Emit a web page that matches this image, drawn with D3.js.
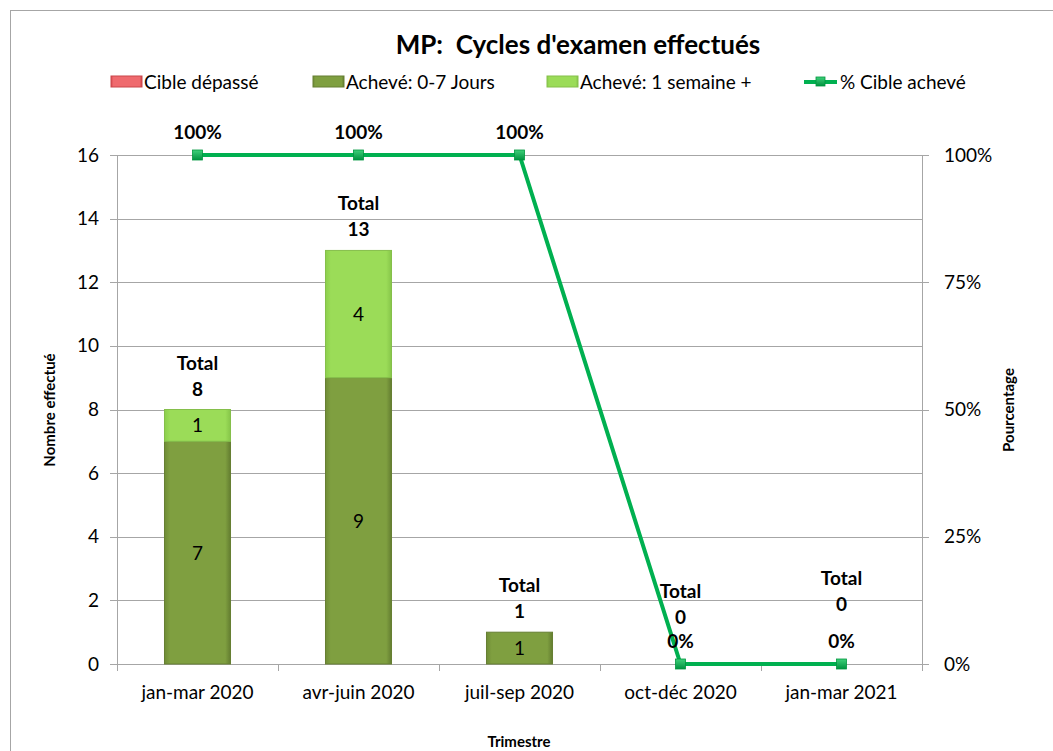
<!DOCTYPE html>
<meta charset="utf-8">
<style>
 body { margin: 0; background: #fff; font-family: Lato, 'Open Sans', sans-serif; }
 .grid line { stroke: #a6a6a6; shape-rendering: crispEdges; }
 .axis path, .axis line { stroke: #a6a6a6; shape-rendering: crispEdges; }
 .axis text { font-size: 19px; fill: #000; font-family: Lato, sans-serif; }
</style>
<body>
<script src="https://cdn.jsdelivr.net/npm/d3@7"></script>
<script>

 // data
 var quarters = ["jan-mar 2020", "avr-juin 2020", "juil-sep 2020", "oct-déc 2020", "jan-mar 2021"];
 var overdue = [0, 0, 0, 0, 0];            // Cible dépassé
 var done07 = [7, 9, 1, 0, 0];             // Achevé: 0-7 Jours
 var doneWeek = [1, 4, 0, 0, 0];           // Achevé: 1 semaine +
 var pctTarget = [1, 1, 1, 0, 0];          // % Cible achevé
 var leftTicks = [0, 2, 4, 6, 8, 10, 12, 14, 16];
 var rightTicks = [0, 0.25, 0.5, 0.75, 1];

 var W = 1053, H = 751;
 var plot = {left: 117, right: 922, top: 155, bottom: 664};

 var svg = d3.select("body").append("svg")
             .attr("width", W)
             .attr("height", H);

 var defs = svg.append("defs");
 function hgrad(id, c0, c1, c2) {
     var g = defs.append("linearGradient").attr("id", id)
                 .attr("x1", 0).attr("x2", 1).attr("y1", 0).attr("y2", 0);
     g.append("stop").attr("offset", "0%").attr("stop-color", c0);
     g.append("stop").attr("offset", "8%").attr("stop-color", c1);
     g.append("stop").attr("offset", "92%").attr("stop-color", c1);
     g.append("stop").attr("offset", "100%").attr("stop-color", c2);
 }
 hgrad("gDark", "#6f8c36", "#7f9f40", "#637d30");
 hgrad("gLight", "#8ccf4c", "#9bdc58", "#86c549");
 hgrad("gRed", "#d94a50", "#ef6a6e", "#cf4448");
 var mg = defs.append("linearGradient").attr("id", "gMark")
              .attr("x1", 0).attr("x2", 0).attr("y1", 0).attr("y2", 1);
 mg.append("stop").attr("offset", "0%").attr("stop-color", "#3fd07a");
 mg.append("stop").attr("offset", "100%").attr("stop-color", "#00923f");

 // outer frame
 svg.append("rect")
    .attr("x", 10.5).attr("y", 10.5)
    .attr("width", W).attr("height", H)
    .attr("fill", "none").attr("stroke", "#a6a6a6");

 var x = d3.scaleBand()
           .domain(quarters)
           .range([plot.left, plot.right])
           .paddingInner(0.59)
           .paddingOuter(0.295);

 var y = d3.scaleLinear().domain([0, 16]).range([plot.bottom, plot.top]);
 var y2 = d3.scaleLinear().domain([0, 1]).range([plot.bottom, plot.top]);

 // gridlines
 svg.append("g").attr("class", "grid")
    .selectAll("line")
    .data(leftTicks.filter(d => d > 0))
    .enter().append("line")
    .attr("x1", plot.left).attr("x2", plot.right)
    .attr("y1", d => Math.round(y(d)) + 0.5)
    .attr("y2", d => Math.round(y(d)) + 0.5);

 // left axis
 var gY = svg.append("g").attr("class", "axis")
             .attr("transform", "translate(" + plot.left + ",0)")
             .call(d3.axisLeft(y).tickValues(leftTicks).tickSize(7).tickSizeOuter(0).tickPadding(11));

 // right axis
 var gY2 = svg.append("g").attr("class", "axis")
              .attr("transform", "translate(" + plot.right + ",0)")
              .call(d3.axisRight(y2).tickValues(rightTicks).tickSize(7).tickSizeOuter(0)
                      .tickPadding(15).tickFormat(d3.format(".0%")));

 // bottom axis: ticks on category boundaries
 var step = x.step();
 var gX = svg.append("g").attr("class", "axis")
             .attr("transform", "translate(0," + plot.bottom + ")");
 gX.append("line")
   .attr("x1", plot.left).attr("x2", plot.right + 7)
   .attr("y1", 0.5).attr("y2", 0.5);
 gX.selectAll(".tk")
   .data(d3.range(quarters.length + 1))
   .enter().append("line")
   .attr("x1", i => Math.round(plot.left + i * step) + 0.5)
   .attr("x2", i => Math.round(plot.left + i * step) + 0.5)
   .attr("y1", 0).attr("y2", 7);
 gX.selectAll("text")
   .data(quarters)
   .enter().append("text")
   .attr("x", d => x(d) + x.bandwidth() / 2)
   .attr("y", 35)
   .attr("text-anchor", "middle")
   .text(d => d);

 // stacked bars
 var rows = quarters.map((q, i) => ({q: q, d07: done07[i], week: doneWeek[i], over: overdue[i]}));
 var stack = d3.stack().keys(["d07", "week", "over"])(rows);
 var fills = {d07: "url(#gDark)", week: "url(#gLight)", over: "url(#gRed)"};
 var edge = {d07: "#667f33", week: "#85bf4b", over: "#c9464a"};
 var top = {d07: "#9cba5e", week: "#b8ec80", over: "#f39a9c"};

 stack.forEach(function(layer) {
     var g = svg.append("g");
     var segs = layer.filter(s => s[1] > s[0]);
     g.selectAll("rect")
      .data(segs)
      .enter().append("rect")
      .attr("x", s => x(s.data.q))
      .attr("y", s => y(s[1]))
      .attr("width", x.bandwidth())
      .attr("height", s => y(s[0]) - y(s[1]))
      .attr("fill", fills[layer.key])
      .attr("stroke", edge[layer.key])
      .attr("stroke-width", 1);
     g.selectAll("line")
      .data(segs)
      .enter().append("line")
      .attr("x1", s => x(s.data.q) + 3)
      .attr("x2", s => x(s.data.q) + x.bandwidth() - 3)
      .attr("y1", s => y(s[1]) + 2)
      .attr("y2", s => y(s[1]) + 2)
      .attr("stroke", top[layer.key])
      .attr("stroke-width", 2);
     g.selectAll("text")
      .data(segs)
      .enter().append("text")
      .attr("x", s => x(s.data.q) + x.bandwidth() / 2)
      .attr("y", s => (y(s[0]) + y(s[1])) / 2 + 7)
      .attr("text-anchor", "middle")
      .attr("font-size", "19px")
      .text(s => s[1] - s[0]);
 });

 // total labels
 var totals = quarters.map((q, i) => done07[i] + doneWeek[i] + overdue[i]);
 var tl = svg.append("g").attr("font-weight", "bold").attr("font-size", "19px").attr("text-anchor", "middle");
 totals.forEach(function(t, i) {
     var cx = x(quarters[i]) + x.bandwidth() / 2;
     var base = y(t) - (t === 0 ? (i === 3 ? 73 : 86) : 47);
     var txt = tl.append("text").attr("x", cx).attr("y", base);
     txt.append("tspan").attr("x", cx).attr("dy", 7).text("Total");
     txt.append("tspan").attr("x", cx).attr("dy", 26).text(t);
 });

 // percent line
 var pts = quarters.map((q, i) => ({q: q, v: pctTarget[i]}));
 svg.append("path")
    .datum(pts)
    .attr("fill", "none")
    .attr("stroke", "#00b050")
    .attr("stroke-width", 4)
    .attr("stroke-linejoin", "round")
    .attr("d", d3.line()
                 .x(d => x(d.q) + x.bandwidth() / 2)
                 .y(d => y2(d.v)));

 svg.append("g").selectAll("rect")
    .data(pts)
    .enter().append("rect")
    .attr("x", d => x(d.q) + x.bandwidth() / 2 - 5)
    .attr("y", d => y2(d.v) - 5)
    .attr("width", 10).attr("height", 10)
    .attr("fill", "url(#gMark)")
    .attr("stroke", "#00973f").attr("stroke-width", 0.8);

 svg.append("g").attr("font-weight", "bold").attr("font-size", "19px").attr("text-anchor", "middle")
    .selectAll("text")
    .data(pts)
    .enter().append("text")
    .attr("x", d => x(d.q) + x.bandwidth() / 2)
    .attr("y", d => y2(d.v) - 16)
    .text(d => d3.format(".0%")(d.v));

 // title
 svg.append("text")
    .attr("x", 578).attr("y", 54)
    .attr("text-anchor", "middle")
    .attr("font-weight", "bold")
    .attr("font-size", "26px")
    .style("white-space", "pre")
    .text("MP:  Cycles d'examen effectués");

 // legend
 var legend = [
     {label: "Cible dépassé", fill: "url(#gRed)", stroke: "#c9464a", x: 111},
     {label: "Achevé: 0-7 Jours", fill: "url(#gDark)", stroke: "#667f33", x: 313},
     {label: "Achevé: 1 semaine +", fill: "url(#gLight)", stroke: "#85bf4b", x: 547}
 ];
 var lg = svg.append("g").attr("font-size", "19px");
 legend.forEach(function(l) {
     lg.append("rect").attr("x", l.x).attr("y", 76).attr("width", 31).attr("height", 11)
       .attr("fill", l.fill).attr("stroke", l.stroke);
     lg.append("text").attr("x", l.x + 33).attr("y", 89).text(l.label);
 });
 lg.append("line").attr("x1", 804).attr("x2", 837).attr("y1", 82).attr("y2", 82)
   .attr("stroke", "#00b050").attr("stroke-width", 4);
 lg.append("rect").attr("x", 816).attr("y", 77).attr("width", 9).attr("height", 9)
   .attr("fill", "url(#gMark)").attr("stroke", "#00973f").attr("stroke-width", 0.8);
 lg.append("text").attr("x", 840).attr("y", 89).text("% Cible achevé");

 // axis titles
 svg.append("text")
    .attr("transform", "translate(55,410) rotate(-90)")
    .attr("text-anchor", "middle").attr("font-weight", "bold").attr("font-size", "15px")
    .text("Nombre effectué");
 svg.append("text")
    .attr("transform", "translate(1014,410) rotate(-90)")
    .attr("text-anchor", "middle").attr("font-weight", "bold").attr("font-size", "15px")
    .text("Pourcentage");
 svg.append("text")
    .attr("x", 519).attr("y", 747)
    .attr("text-anchor", "middle").attr("font-weight", "bold").attr("font-size", "15px")
    .text("Trimestre");

</script>
